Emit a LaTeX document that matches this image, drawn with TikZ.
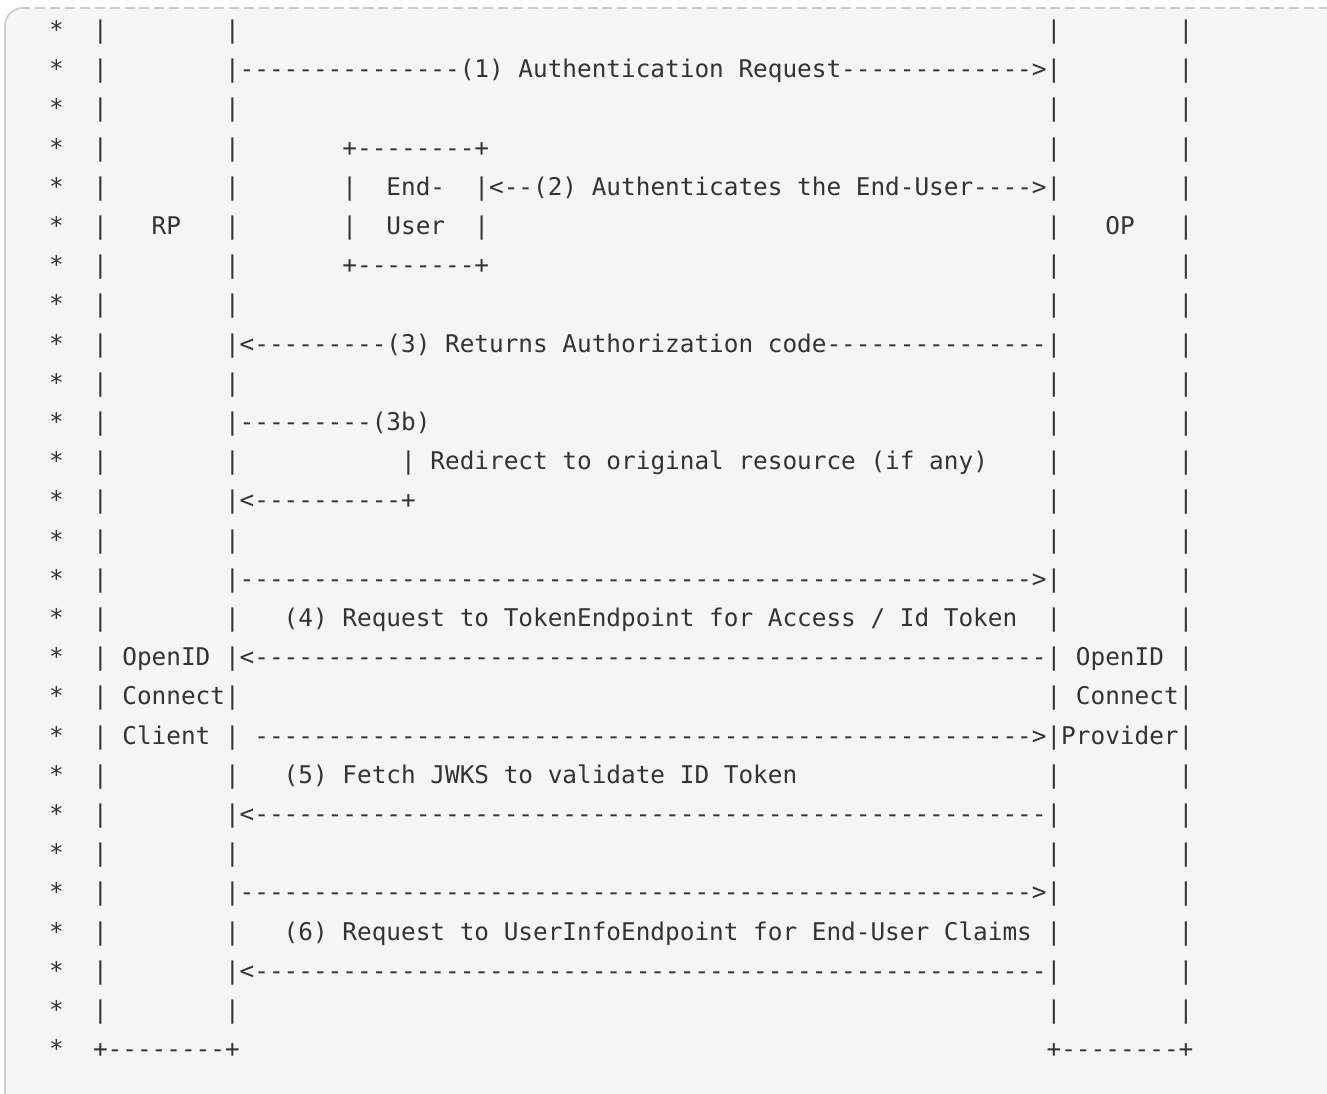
\documentclass[tikz,border=0pt]{standalone}
\usepackage{fontspec}
\setmonofont{DejaVu Sans Mono}
\usepackage{tikz}

\definecolor{codebg}{RGB}{245, 245, 245}
\definecolor{codeink}{RGB}{51, 51, 51}
\definecolor{codeedge}{RGB}{204, 204, 204}

% character grid helpers (one column = one monospaced glyph)
\newcommand\colgap[1]{\hspace*{#1\fontcharwd\font`\x}}
\newcommand\dashrun[1]{\foreach\k in {1,...,#1}{-}}
\newcommand\railrow{*\colgap2|\colgap8|\colgap{55}|\colgap8|}

\begin{document}
\begin{tikzpicture}[
    x=0.02cm, y=-0.02cm,
    ascii/.style={anchor=base west, inner sep=0pt, outer sep=0pt, text=codeink,
      font=\ttfamily\fontsize{13.87pt}{16pt}\selectfont},
    railframe/.style={draw=codeedge, line width=0.9pt},
  ]
  \useasboundingbox (0,0) rectangle (1327,1093);

  % code block background and its frame
  \fill[codebg, rounded corners=10] (5,1120) -- (5,8) -- (1340,8) -- (1340,1120) -- cycle;
  \draw[railframe, rounded corners=10] (5,1120) -- (5,8) -- (20,8);
  \draw[railframe, dash pattern=on 5.7pt off 2.8pt] (20,8) -- (1340,8);

  % the flow, one text row per line
  \foreach \r/\txt in {
      1/{\railrow},
      2/{*\colgap2|\colgap8|\dashrun{15}(1) Authentication Request\dashrun{13}>|\colgap8|},
      3/{\railrow},
      4/{*\colgap2|\colgap8|\colgap7+\dashrun8+\colgap{38}|\colgap8|},
      5/{*\colgap2|\colgap8|\colgap7|\colgap2End-\colgap2|<\dashrun2(2) Authenticates the End-User\dashrun4>|\colgap8|},
      6/{*\colgap2|\colgap3RP\colgap3|\colgap7|\colgap2User\colgap2|\colgap{38}|\colgap3OP\colgap3|},
      7/{*\colgap2|\colgap8|\colgap7+\dashrun8+\colgap{38}|\colgap8|},
      8/{\railrow},
      9/{*\colgap2|\colgap8|<\dashrun9(3) Returns Authorization code\dashrun{15}|\colgap8|},
      10/{\railrow},
      11/{*\colgap2|\colgap8|\dashrun9(3b)\colgap{42}|\colgap8|},
      12/{*\colgap2|\colgap8|\colgap{11}| Redirect to original resource (if any)\colgap4|\colgap8|},
      13/{*\colgap2|\colgap8|<\dashrun{10}+\colgap{43}|\colgap8|},
      14/{\railrow},
      15/{*\colgap2|\colgap8|\dashrun{54}>|\colgap8|},
      16/{*\colgap2|\colgap8|\colgap3(4) Request to TokenEndpoint for Access / Id Token\colgap2|\colgap8|},
      17/{*\colgap2| OpenID |<\dashrun{54}| OpenID |},
      18/{*\colgap2| Connect|\colgap{55}| Connect|},
      19/{*\colgap2| Client | \dashrun{53}>|Provider|},
      20/{*\colgap2|\colgap8|\colgap3(5) Fetch JWKS to validate ID Token\colgap{17}|\colgap8|},
      21/{*\colgap2|\colgap8|<\dashrun{54}|\colgap8|},
      22/{\railrow},
      23/{*\colgap2|\colgap8|\dashrun{54}>|\colgap8|},
      24/{*\colgap2|\colgap8|\colgap3(6) Request to UserInfoEndpoint for End-User Claims\colgap1|\colgap8|},
      25/{*\colgap2|\colgap8|<\dashrun{54}|\colgap8|},
      26/{\railrow},
      27/{*\colgap2+\dashrun8+\colgap{55}+\dashrun8+}} {
    \node[ascii] (row\r) at (49, {38.4 + 39.2*(\r-1)}) {\txt};
  }

\end{tikzpicture}
\end{document}
